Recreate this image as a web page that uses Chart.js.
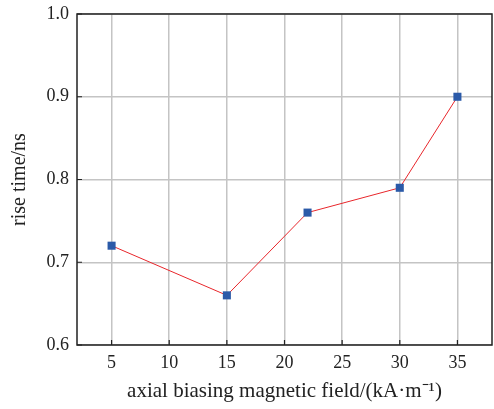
<!DOCTYPE html>
<html><head><meta charset="utf-8">
<script src="https://cdn.jsdelivr.net/npm/chart.js@4"></script>
<style>html,body{margin:0;padding:0;background:#fff}#wrap{width:494px;height:409px}</style>
</head><body><div id="wrap"><canvas id="c" width="494" height="409"></canvas></div>
<script>
const fieldValues = [5, 15, 22, 30, 35];
const riseTimes = [0.72, 0.66, 0.76, 0.79, 0.90];
const xTicks = [5, 10, 15, 20, 25, 30, 35];
const yTicks = [0.6, 0.7, 0.8, 0.9, 1.0];
const xTitle = 'axial biasing magnetic field/(kA\u00b7m\u207b\u00b9)';
const yTitle = 'rise time/ns';

const FONT = "'Liberation Serif', 'Times New Roman', serif";

const frame = {
  id: 'frame',
  afterDraw(chart) {
    const {ctx, chartArea: a, scales} = chart;
    ctx.save();
    ctx.strokeStyle = '#222';
    ctx.lineWidth = 1.5;
    ctx.strokeRect(a.left, a.top, a.right - a.left, a.bottom - a.top);
    ctx.lineWidth = 1.2;
    ctx.beginPath();
    xTicks.forEach(v => { const x = scales.x.getPixelForValue(v); ctx.moveTo(x, a.bottom); ctx.lineTo(x, a.bottom - 5); });
    yTicks.forEach(v => { const y = scales.y.getPixelForValue(v); ctx.moveTo(a.left, y); ctx.lineTo(a.left + 5, y); });
    ctx.stroke();
    ctx.restore();
  }
};

new Chart(document.getElementById('c'), {
  type: 'scatter',
  data: {
    datasets: [{
      data: fieldValues.map((x, i) => ({x, y: riseTimes[i]})),
      showLine: true,
      borderColor: '#e8262b',
      borderWidth: 1,
      pointStyle: 'rect',
      pointRadius: 5.7,
      pointHoverRadius: 5.7,
      pointBackgroundColor: '#2b5aa8',
      pointBorderColor: '#2b5aa8',
      pointBorderWidth: 0,
      clip: false
    }]
  },
  options: {
    responsive: false,
    animation: false,
    events: [],
    layout: {autoPadding: false, padding: {top: 14, right: 2, left: 0, bottom: 0}},
    plugins: {legend: {display: false}, tooltip: {enabled: false}},
    scales: {
      x: {
        type: 'linear', min: 2, max: 38,
        afterBuildTicks: s => { s.ticks = xTicks.map(v => ({value: v})); },
        afterFit: s => { s.height = 64; s.paddingLeft = 0; s.paddingRight = 0; },
        grid: {color: '#c4c4c4', lineWidth: 1.5, drawTicks: false},
        border: {display: false},
        ticks: {color: '#222', padding: 7, font: {family: FONT, size: 18}, maxRotation: 0, autoSkip: false},
        title: {display: true, text: xTitle, color: '#222', font: {family: FONT, size: 21}, padding: {top: 0, bottom: 5}}
      },
      y: {
        type: 'linear', min: 0.6, max: 1.0,
        afterBuildTicks: s => { s.ticks = yTicks.map(v => ({value: v})); },
        afterFit: s => { s.width = 77; s.paddingTop = 0; s.paddingBottom = 0; },
        grid: {color: '#c4c4c4', lineWidth: 1.5, drawTicks: false},
        border: {display: false},
        ticks: {color: '#222', padding: 8, font: {family: FONT, size: 18}, callback: v => v.toFixed(1)},
        title: {display: true, text: yTitle, color: '#222', font: {family: FONT, size: 20}, padding: {top: 8, bottom: 0}}
      }
    }
  },
  plugins: [frame]
});
</script>
</body></html>
